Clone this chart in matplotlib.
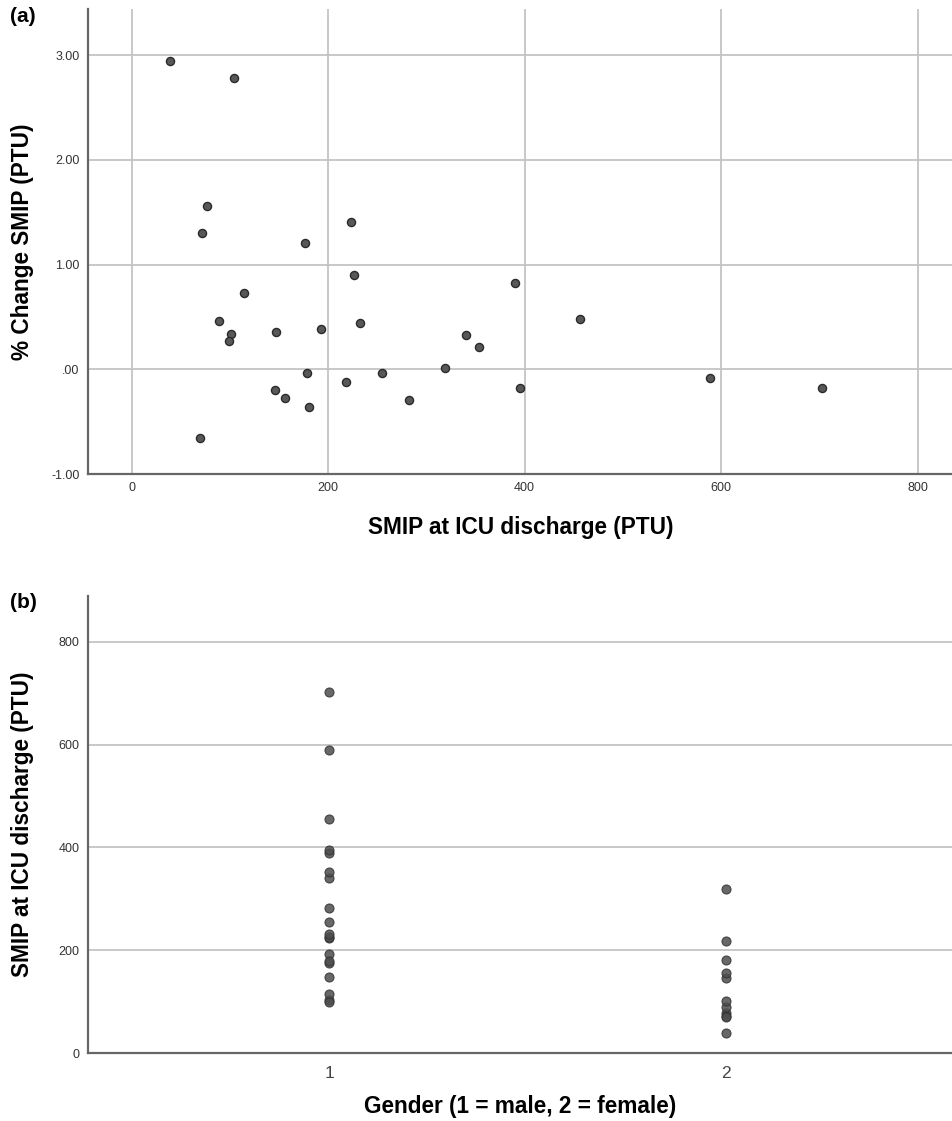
import numpy as np
import matplotlib
matplotlib.use("Agg")
import matplotlib.pyplot as plt

plt.rcParams['font.family'] = ['Liberation Sans', 'DejaVu Sans']

# SMIP at ICU discharge (PTU), % change in SMIP and gender (1 = male, 2 = female)
smip = [39, 104, 77, 72, 223, 176, 226, 114, 89, 101,
        99, 147, 193, 232, 340, 353, 319, 178, 255, 218,
        146, 156, 180, 282, 70, 390, 456, 395, 589, 703]
pct_change = [2.94, 2.78, 1.56, 1.30, 1.41, 1.21, 0.90, 0.73, 0.46, 0.34,
              0.27, 0.36, 0.38, 0.44, 0.33, 0.21, 0.01, -0.04, -0.04, -0.12,
              -0.20, -0.27, -0.36, -0.29, -0.66, 0.82, 0.48, -0.18, -0.08, -0.18]
gender = [2, 1, 2, 2, 1, 1, 1, 1, 2, 2,
          1, 1, 1, 1, 1, 1, 2, 1, 1, 2,
          2, 2, 2, 1, 2, 1, 1, 1, 1, 1]

x_ticks_a = [0, 200, 400, 600, 800]
y_ticks_a = [-1, 0, 1, 2, 3]
y_labels_a = ['-1.00', '.00', '1.00', '2.00', '3.00']
y_ticks_b = [0, 200, 400, 600, 800]

W, H = 953, 1121
fig = plt.figure(figsize=(W / 100, H / 100), dpi=100)

spine_col = '#666666'
grid_col = '#c4c4c4'
tick_col = '#333333'
label_kw = dict(fontsize=16.3, fontweight='bold')


def style(ax):
    for s in ('top', 'right'):
        ax.spines[s].set_visible(False)
    for s in ('left', 'bottom'):
        ax.spines[s].set_color(spine_col)
        ax.spines[s].set_linewidth(1.6)
    ax.tick_params(length=0, colors=tick_col, labelsize=9, pad=6)
    ax.set_axisbelow(True)


# (a) % change vs SMIP at discharge
ax1 = fig.add_axes([88 / W, 1 - 474 / H, (W - 88) / W, (474 - 9) / H])
style(ax1)
ax1.scatter(smip, pct_change, s=34, facecolor='#585858', edgecolor='#2a2a2a',
            linewidth=1.0, zorder=3)
ax1.set_xlim(-44.5, 836)
ax1.set_ylim(-1, 3.44)
ax1.set_xticks(x_ticks_a)
ax1.set_yticks(y_ticks_a)
ax1.set_yticklabels(y_labels_a)
ax1.grid(True, color=grid_col, linewidth=1.3)
ax1.set_xlabel('SMIP at ICU discharge (PTU)', **label_kw)
ax1.set_ylabel('% Change SMIP (PTU)', **label_kw)
ax1.xaxis.set_label_coords(0.5, (474 - 527) / 465, transform=ax1.transAxes)
ax1.xaxis.label.set_va('center')
ax1.yaxis.set_label_coords((23 - 88) / 865, 0.5)
ax1.yaxis.label.set_va('center')
fig.text(10 / W, 1 - 17 / H, '(a)', fontsize=15, fontweight='bold', va='center')

# (b) SMIP at discharge by gender
ax2 = fig.add_axes([88 / W, 1 - 1053 / H, (W - 88) / W, (1053 - 596) / H])
style(ax2)
ax2.scatter(gender, smip, s=42, facecolor='#4e4e4e', edgecolor='#333333',
            linewidth=0.8, alpha=0.85, zorder=3)
ax2.set_xlim(0.392, 2.572)
ax2.set_ylim(0, 889)
ax2.set_xticks([1, 2])
ax2.set_yticks(y_ticks_b)
ax2.tick_params(axis='x', labelsize=12.5, colors='#444444', pad=9)
ax2.grid(True, axis='y', color=grid_col, linewidth=1.3)
ax2.set_xlabel('Gender (1 = male, 2 = female)', **label_kw)
ax2.set_ylabel('SMIP at ICU discharge (PTU)', **label_kw)
ax2.xaxis.set_label_coords(0.5, (1053 - 1107) / 457)
ax2.xaxis.label.set_va('center')
ax2.yaxis.set_label_coords((23 - 88) / 865, 0.5)
ax2.yaxis.label.set_va('center')
fig.text(10 / W, 1 - 602 / H, '(b)', fontsize=15, fontweight='bold', va='center')

fig.savefig('out.png', dpi=100)
